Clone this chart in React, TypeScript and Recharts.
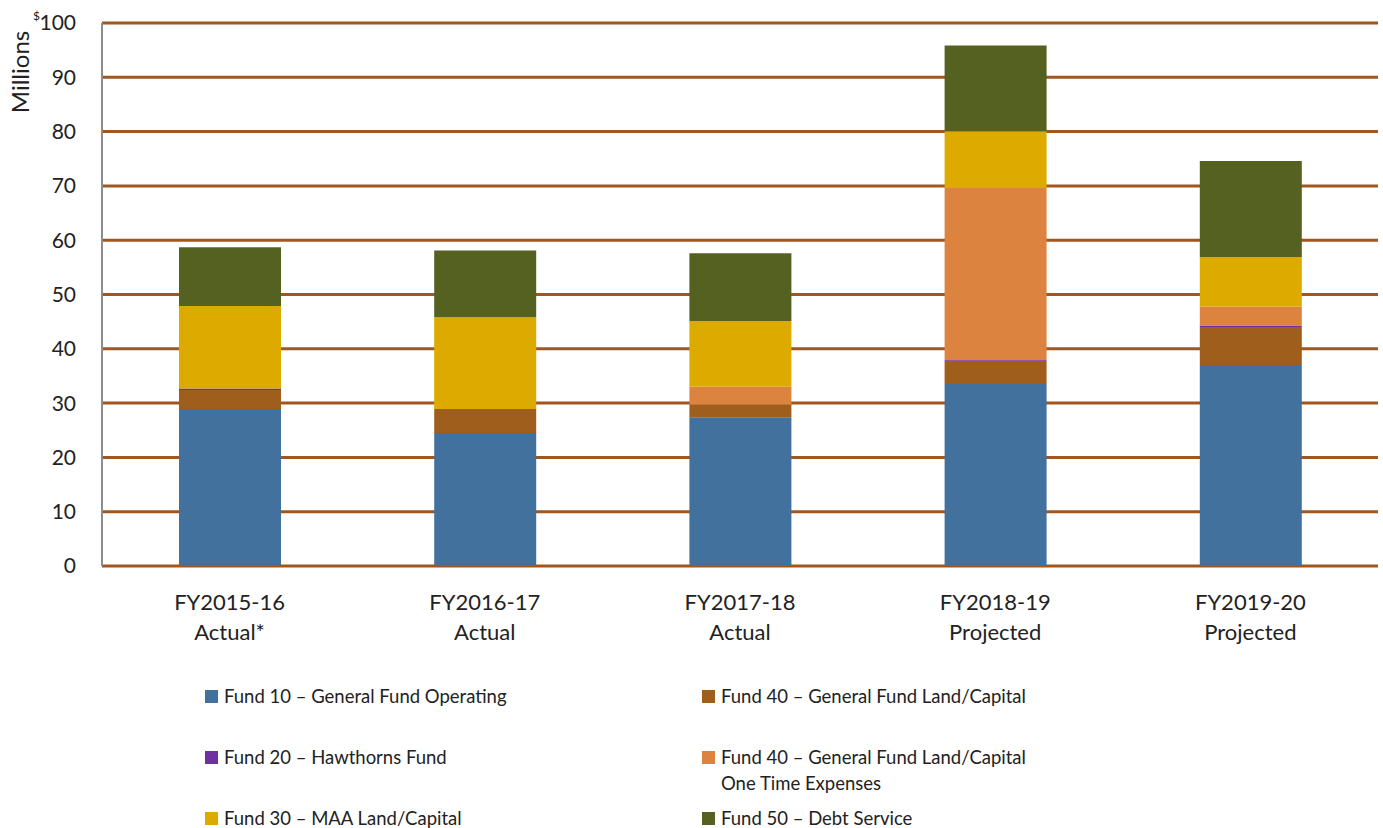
import { BarChart, Bar, XAxis, YAxis, CartesianGrid, Legend } from "recharts"

const years = ["FY2015-16", "FY2016-17", "FY2017-18", "FY2018-19", "FY2019-20"]
const status = ["Actual*", "Actual", "Actual", "Projected", "Projected"]

const fund10 = [28.9, 24.5, 27.4, 33.5, 37.0]
const fund40 = [3.5, 4.4, 2.4, 4.3, 7.0]
const fund20 = [0.3, 0, 0, 0.15, 0.3]
const fund40OneTime = [0, 0, 3.2, 31.7, 3.5]
const fund30 = [15.2, 16.9, 12.1, 10.4, 9.1]
const fund50 = [10.8, 12.3, 12.5, 15.8, 17.7]

const yTicks = [0, 10, 20, 30, 40, 50, 60, 70, 80, 90, 100]

const series = [
  { key: "f10", name: "Fund 10 – General Fund Operating", color: "#43719e" },
  { key: "f40", name: "Fund 40 – General Fund Land/Capital", color: "#a05e1c" },
  { key: "f20", name: "Fund 20 – Hawthorns Fund", color: "#7030a0" },
  { key: "f40ot", name: "Fund 40 – General Fund Land/Capital\nOne Time Expenses", color: "#dd8340" },
  { key: "f30", name: "Fund 30 – MAA Land/Capital", color: "#ddab00" },
  { key: "f50", name: "Fund 50 – Debt Service", color: "#556121" },
]

// legend is laid out in two columns, like the original
const legendCols = [
  ["f10", "f20", "f30"],
  ["f40", "f40ot", "f50"],
]

const data = years.map((y, i) => ({
  year: y,
  status: status[i],
  f10: fund10[i],
  f40: fund40[i],
  f20: fund20[i],
  f40ot: fund40OneTime[i],
  f30: fund30[i],
  f50: fund50[i],
}))

const font = "Lato, 'Open Sans', sans-serif"

function CategoryTick(props: any) {
  const { x, y, payload, index } = props
  return (
    <g transform={`translate(${x},${y})`}>
      <text textAnchor="middle" fontFamily={font} fontSize={22} fill="#222">
        <tspan x={0} dy={36}>{payload.value}</tspan>
        <tspan x={0} dy={30}>{status[index]}</tspan>
      </text>
    </g>
  )
}

function LegendBox() {
  return (
    <div style={{ position: "relative", width: 1383, height: 150, fontFamily: font, fontSize: 18.5, color: "#222" }}>
      {legendCols.map((col, ci) =>
        col.map((k, ri) => {
          const s = series.find((d) => d.key === k)!
          const lines = s.name.split("\n")
          return (
            <div
              key={k}
              style={{ position: "absolute", left: ci === 0 ? 205 : 702, top: 7 + ri * 61, display: "flex", alignItems: "flex-start" }}
            >
              <div style={{ width: 13, height: 13, background: s.color, marginTop: 7, marginRight: 6 }} />
              <div style={{ lineHeight: "26px" }}>
                {lines.map((l, li) => (
                  <div key={li}>{l}</div>
                ))}
              </div>
            </div>
          )
        })
      )}
    </div>
  )
}

export default function App() {
  return (
    <div style={{ position: "absolute", left: 0, top: 0, width: 1383, height: 828, background: "#fff" }}>
      <BarChart
        width={1383}
        height={828}
        data={data}
        margin={{ top: 23, right: 5, bottom: 0, left: 0 }}
        barSize={102}
      >
        <CartesianGrid horizontal vertical={false} stroke="#a0561c" strokeWidth={3} />
        <XAxis
          dataKey="year"
          axisLine={false}
          tickLine={false}
          tick={<CategoryTick />}
          height={110}
          interval={0}
        />
        <YAxis
          domain={[0, 100]}
          ticks={yTicks}
          width={102}
          axisLine={{ stroke: "#8c8c8c", strokeWidth: 2 }}
          tickLine={false}
          tick={{ fontFamily: font, fontSize: 21, fill: "#222" }}
          tickMargin={20}
          interval={0}
          label={() => (
            <g>
              <text
                transform={`translate(29,72) rotate(-90)`}
                textAnchor="middle"
                fontFamily={font}
                fontSize={24}
                fill="#222"
              >
                Millions
              </text>
              <text x={33} y={20} fontFamily={font} fontSize={12} fill="#222">$</text>
            </g>
          )}
        />
        <Legend verticalAlign="bottom" align="left" height={152} content={() => <LegendBox />} wrapperStyle={{ left: 0, bottom: 0 }} />
        {series.map((s) => (
          <Bar key={s.key} dataKey={s.key} name={s.name} stackId="a" fill={s.color} isAnimationActive={false} />
        ))}
      </BarChart>
    </div>
  )
}
